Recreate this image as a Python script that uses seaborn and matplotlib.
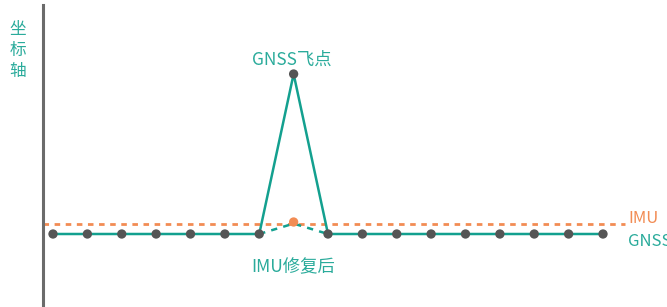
import matplotlib
matplotlib.use("Agg")
import matplotlib.pyplot as plt
import seaborn as sns
import pandas as pd

sns.set_theme(style="white")
plt.rcParams['font.family'] = ['Noto Sans CJK SC', 'DejaVu Sans']

# data
idx = list(range(17))
gnss = [0, 0, 0, 0, 0, 0, 0, 100, 0, 0, 0, 0, 0, 0, 0, 0, 0]
imu_level = 6.5
repair_x = [6, 7, 8]
repair_y = [0, 6.5, 0]
axis_label = "坐\n标\n轴"
peak_label = "GNSS飞点"
repair_label = "IMU修复后"
imu_label = "IMU"
gnss_label = "GNSS"

TEAL = "#13a08f"
TEXT_TEAL = "#2aab9b"
ORANGE = "#f28c54"
GRAY = "#555555"

df = pd.DataFrame({"x": idx, "y": gnss})

fig = plt.figure(figsize=(6.67, 3.07), dpi=100)
ax = fig.add_axes([0, 0, 1, 1])

ax.plot([-0.29, 16.64], [imu_level, imu_level], color=ORANGE, lw=2,
        ls=(0, (2, 2)), zorder=1)
sns.lineplot(data=df, x="x", y="y", ax=ax, color=TEAL, lw=1.8, zorder=2)
ax.plot(repair_x, repair_y, color=TEAL, lw=1.8, ls=(0, (2.5, 2.5)), zorder=2)
sns.scatterplot(data=df, x="x", y="y", ax=ax, color=GRAY, s=45,
                edgecolor="none", zorder=3)
ax.scatter([repair_x[1]], [repair_y[1] + 1], color=ORANGE, s=45,
           edgecolor="none", zorder=3)

ax.set_xlim(-1.542, 17.862)
ax.set_ylim(-45.625, 146.25)

for s in ["top", "right", "bottom"]:
    ax.spines[s].set_visible(False)
ax.spines["left"].set_position(("data", -0.29))
ax.spines["left"].set_color("#6b6b6b")
ax.spines["left"].set_linewidth(2.2)
ax.spines["left"].set_bounds(-50, 143)
ax.set_xticks([])
ax.set_yticks([])
ax.set_xlabel("")
ax.set_ylabel("")

kw = dict(fontweight="light")
ax.text(-1.03, 114.5, axis_label, color=TEXT_TEAL, fontsize=12, ha="center",
        va="center", linespacing=1.3, **kw)
ax.text(6.95, 109, peak_label, color=TEXT_TEAL, fontsize=12.5, ha="center",
        va="center", **kw)
ax.text(7.0, -20.5, repair_label, color=TEXT_TEAL, fontsize=12.5, ha="center",
        va="center", **kw)
ax.text(16.73, 9.5, imu_label, color=ORANGE, fontsize=12, ha="left",
        va="center", **kw)
ax.text(16.73, -4.5, gnss_label, color=TEXT_TEAL, fontsize=12, ha="left",
        va="center", **kw)

fig.savefig("out.png", dpi=100)
